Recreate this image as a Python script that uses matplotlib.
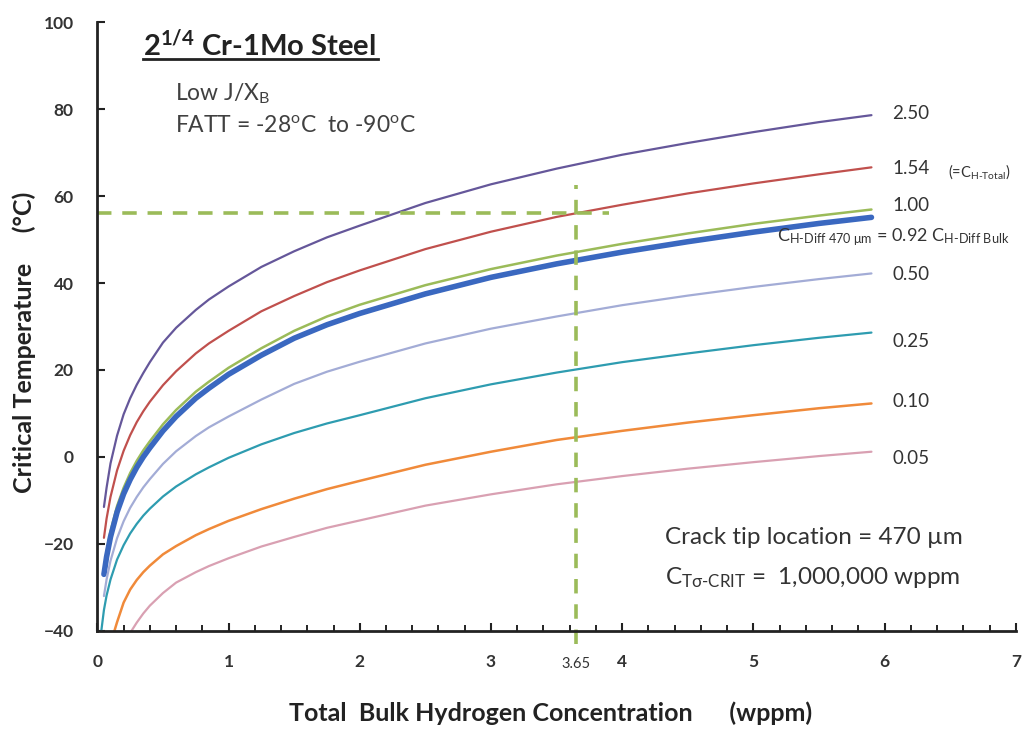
import numpy as np
import matplotlib
matplotlib.use("Agg")
import matplotlib.pyplot as plt

plt.rcParams['font.family'] = ['Lato', 'DejaVu Sans']
plt.rcParams['mathtext.fontset'] = 'custom'
plt.rcParams['mathtext.rm'] = 'Lato'
plt.rcParams['mathtext.it'] = 'Lato:italic'
plt.rcParams['mathtext.bf'] = 'Lato:bold'

# critical temperature (degC) vs total bulk hydrogen (wppm)
x_main = [0.05, 0.07, 0.1, 0.15, 0.2, 0.25, 0.3, 0.35, 0.4, 0.5, 0.6, 0.75, 0.85, 1.0,
          1.25, 1.5, 1.75, 2.0, 2.5, 3.0, 3.5, 4.0, 4.5, 5.0, 5.5, 5.9]
t_250 = [-11.5, -7.1, -1.5, 4.9, 9.8, 13.5, 16.6, 19.3, 21.8, 26.3, 29.7, 33.8, 36.2, 39.2,
         43.7, 47.3, 50.5, 53.2, 58.4, 62.7, 66.3, 69.5, 72.2, 74.7, 77.0, 78.6]
t_154 = [-18.6, -14.2, -9.2, -3.1, 1.4, 5.0, 8.0, 10.5, 12.7, 16.5, 19.7, 23.8, 26.1, 29.0,
         33.5, 37.0, 40.2, 42.9, 47.8, 51.8, 55.2, 58.0, 60.6, 62.9, 65.0, 66.6]
t_100 = [-26, -21.8, -17.1, -11.3, -7.1, -3.7, -0.9, 1.5, 3.6, 7.5, 10.8, 15.0, 17.3, 20.5,
         25.0, 29.0, 32.3, 35.0, 39.5, 43.2, 46.3, 49.0, 51.4, 53.6, 55.5, 56.9]
t_092 = [-27, -23, -18.4, -12.7, -8.5, -5.2, -2.4, 0, 2.1, 6.0, 9.3, 13.5, 15.8, 19.0,
         23.4, 27.3, 30.4, 33.0, 37.5, 41.3, 44.4, 47.1, 49.5, 51.7, 53.7, 55.1]
t_050 = [-32, -28.2, -23.9, -18.7, -14.8, -11.7, -9.2, -7.0, -5.1, -1.6, 1.3, 4.8, 6.8, 9.3,
         13.2, 16.8, 19.6, 21.9, 26.1, 29.5, 32.3, 34.9, 37.1, 39.1, 40.9, 42.2]

x_025 = [0.03, 0.05, 0.07, 0.1, 0.15, 0.2, 0.25, 0.3, 0.35, 0.4, 0.5, 0.6, 0.75, 0.85, 1.0,
         1.25, 1.5, 1.75, 2.0, 2.5, 3.0, 3.5, 4.0, 4.5, 5.0, 5.5, 5.9]
t_025 = [-40, -35.2, -31.9, -28.2, -23.6, -20.3, -17.6, -15.4, -13.5, -11.9, -9.1, -6.8, -4.0,
         -2.4, -0.2, 2.9, 5.5, 7.7, 9.6, 13.5, 16.7, 19.4, 21.8, 23.8, 25.7, 27.4, 28.6]

x_010 = [0.13, 0.15, 0.2, 0.25, 0.3, 0.35, 0.4, 0.5, 0.6, 0.75, 0.85, 1.0, 1.25, 1.5, 1.75,
         2.0, 2.5, 3.0, 3.5, 4.0, 4.5, 5.0, 5.5, 5.9]
t_010 = [-40, -38, -33.5, -30.5, -28.3, -26.5, -25, -22.4, -20.5, -18.0, -16.6, -14.7, -12.0,
         -9.6, -7.4, -5.5, -1.8, 1.2, 3.9, 6.0, 7.9, 9.6, 11.2, 12.3]

x_005 = [0.26, 0.3, 0.35, 0.4, 0.5, 0.6, 0.75, 0.85, 1.0, 1.25, 1.5, 1.75, 2.0, 2.5, 3.0,
         3.5, 4.0, 4.5, 5.0, 5.5, 5.9]
t_005 = [-40, -38.1, -36, -34.2, -31.3, -28.9, -26.5, -25.1, -23.3, -20.6, -18.4, -16.3, -14.6,
         -11.2, -8.6, -6.3, -4.4, -2.7, -1.2, 0.2, 1.2]

curve_labels = ["2.50", "1.54", "1.00", "0.50", "0.25", "0.10", "0.05"]
label_temps = [78.9, 66.3, 57.8, 42.0, 26.5, 12.8, -0.4]

h_total = 3.65      # wppm, marked on the x axis
t_crit = 56         # degC, horizontal guide

fig = plt.figure(figsize=(10.25, 7.37), dpi=100)
ax = fig.add_axes([0.095, 0.144, 0.896, 0.826])

kw = dict(solid_joinstyle="round", solid_capstyle="round")
ax.plot(x_main, t_250, color="#65579a", lw=1.6, **kw)
ax.plot(x_main, t_154, color="#c0504d", lw=1.6, **kw)
ax.plot(x_main, t_100, color="#9bbb59", lw=1.8, **kw)
ax.plot(x_main, t_092, color="#3a68c0", lw=4.0, **kw)
ax.plot(x_main, t_050, color="#a3acd6", lw=1.6, **kw)
ax.plot(x_025, t_025, color="#2e9cb0", lw=1.6, **kw)
ax.plot(x_010, t_010, color="#f08a3a", lw=1.8, **kw)
ax.plot(x_005, t_005, color="#d9a0b2", lw=1.6, **kw)

# guide lines
dash_col = "#9bbb59"
ax.plot([0, 3.9], [t_crit, t_crit], color=dash_col, lw=2.6, ls=(0, (4, 3)))
ax.plot([h_total, h_total], [-43, 62.5], color=dash_col, lw=2.6, ls=(0, (4, 3)), clip_on=False)

ax.set_xlim(0, 7)
ax.set_ylim(-40, 100)
ax.set_yticks(range(-40, 101, 20))
ax.set_xticks(range(0, 8))
ax.set_xticks(np.arange(0, 7.01, 0.2), minor=True)
for s in ["top", "right"]:
    ax.spines[s].set_visible(False)
for s in ["left", "bottom"]:
    ax.spines[s].set_linewidth(2.0)
    ax.spines[s].set_color("#222222")
ax.tick_params(axis="both", direction="in", length=6, width=1.5, colors="#222222",
               labelcolor="#333333", labelsize=12.5, pad=17)
ax.tick_params(axis="x", which="minor", direction="in", length=4, width=1.2)
for lab in ax.get_xticklabels() + ax.get_yticklabels():
    lab.set_fontweight("bold")

ax.text(h_total, -47.6, "3.65", ha="center", va="center", fontsize=10.5, color="#333333")

# curve labels on the right
for lab, t in zip(curve_labels, label_temps):
    ax.text(6.06, t, lab, ha="left", va="center", fontsize=13.5, color="#333333", clip_on=False)
ax.text(6.48, 65.6, r"(=C$_{\mathrm{H\text{-}Total}}$)", ha="left", va="center", fontsize=10.5,
        color="#333333")
ax.text(5.18, 50.5, r"C$_{\mathrm{H\text{-}Diff\ 470\ \mu m}}$ = 0.92 C$_{\mathrm{H\text{-}Diff\ Bulk}}$",
        ha="left", va="center", fontsize=13, color="#333333", clip_on=False)

# annotations
ax.text(0.05, 0.963, r"2$^{\mathbf{1/4}}$ Cr-1Mo Steel", transform=ax.transAxes, fontsize=21,
        fontweight="bold", color="#222222", ha="left", va="center")
ax.plot([0.05, 0.306], [0.94, 0.94], transform=ax.transAxes, color="#222222", lw=2.0,
        clip_on=False)
ax.text(0.085, 0.882, r"Low J/X$_\mathrm{B}$", transform=ax.transAxes, fontsize=16.5,
        color="#404040", ha="left", va="center")
ax.text(0.085, 0.83, "FATT = -28$^\\mathrm{o}$C  to -90$^\\mathrm{o}$C", transform=ax.transAxes,
        fontsize=16.5, color="#404040", ha="left", va="center")
ax.text(0.618, 0.154, "Crack tip location = 470 \u00b5m", transform=ax.transAxes, fontsize=17.5,
        color="#333333", ha="left", va="center")
ax.text(0.618, 0.088, r"C$_{\mathrm{T\sigma\text{-}CRIT}}$ =  1,000,000 wppm", transform=ax.transAxes,
        fontsize=17.5, color="#333333", ha="left", va="center")

fig.text(0.024, 0.535, "Critical Temperature     (\u00b0C)", rotation=90, fontsize=18,
         fontweight="bold", color="#222222", ha="center", va="center")
fig.text(0.537, 0.032, "Total  Bulk Hydrogen Concentration      (wppm)", fontsize=18,
         fontweight="bold", color="#222222", ha="center", va="center")

fig.savefig("out.png", dpi=100)
